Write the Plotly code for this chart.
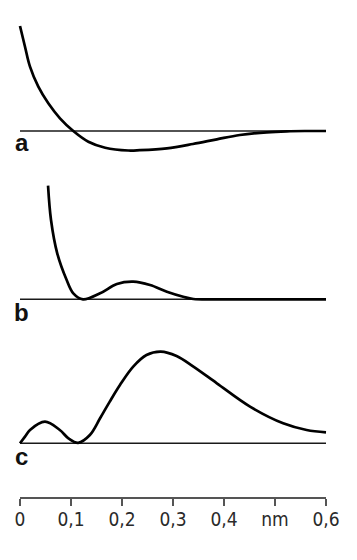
import plotly.graph_objects as go

# ---- data (x in nm, y in arbitrary units relative to each baseline) ----
a_x = [0.0, 0.0098, 0.0196, 0.0359, 0.0555, 0.0784, 0.1045, 0.134, 0.167, 0.212, 0.235,
       0.288, 0.339, 0.386, 0.431, 0.484, 0.523, 0.56, 0.6]
a_y = [105, 84.3, 64.3, 44.3, 27.7, 12.7, 0, -10.7, -16.7, -19.5, -19.2,
       -17.3, -13, -8.3, -4, -1.3, -0.3, 0, 0]

b_x = [0.055, 0.0608, 0.073, 0.0915, 0.1045, 0.1235, 0.157, 0.19, 0.222, 0.255,
       0.288, 0.32, 0.34, 0.4, 0.5, 0.6]
b_y = [113.6, 79.3, 46, 19.3, 6, 0, 6, 15.3, 17.6, 14.3,
       7.6, 2.6, 0.3, 0, 0, 0]

c_x = [0.0, 0.0098, 0.0196, 0.049, 0.078, 0.095, 0.114, 0.137, 0.157, 0.176, 0.196,
       0.222, 0.248, 0.276, 0.307, 0.34, 0.386, 0.451, 0.516, 0.562, 0.6]
c_y = [0, 6.7, 13.3, 21.6, 13.3, 5, 0.5, 8.3, 25, 41.7, 58.3,
       76.7, 88.3, 91.7, 87.3, 76.7, 60, 36.7, 20, 13.3, 11]

tick_vals = [0, 0.1, 0.2, 0.3, 0.4, 0.5, 0.6]
tick_text = ["0", "0,1", "0,2", "0,3", "0,4", "nm", "0,6"]
panel_labels = ["a", "b", "c"]

W, H = 357, 560
X0, X1 = 20, 326          # pixel positions of 0 and 0.6 nm
ppn = (X1 - X0) / 0.6

def px_range():
    return [-X0 / ppn, (W - X0) / ppn]

# panel geometry in pixels: baseline, top, bottom
panels = [(131, 10, 165), (299.3, 175, 320), (443.3, 340, 470)]

fig = go.Figure()
series = [(a_x, a_y), (b_x, b_y), (c_x, c_y)]
for i, ((xs, ys), (B, T, Bot)) in enumerate(zip(series, panels)):
    yname = "y" if i == 0 else f"y{i+1}"
    fig.add_trace(go.Scatter(x=[0, 0.6], y=[0, 0], mode="lines", xaxis="x", yaxis=yname,
                             line=dict(color="#1a1a1a", width=1.6), hoverinfo="skip",
                             showlegend=False))
    fig.add_trace(go.Scatter(x=xs, y=ys, mode="lines", xaxis="x", yaxis=yname,
                             line=dict(color="#000000", width=2.7, shape="spline", smoothing=1.0),
                             hoverinfo="skip", showlegend=False))
    key = "yaxis" if i == 0 else f"yaxis{i+1}"
    fig.layout[key] = dict(domain=[1 - Bot / H, 1 - T / H], range=[B - Bot, B - T],
                           visible=False, fixedrange=True, anchor="x", automargin=False)

# invisible trace to attach the scale-bar axis
fig.add_trace(go.Scatter(x=[0, 0.6], y=[0, 0], mode="lines", xaxis="x2", yaxis="y",
                         line=dict(width=0), opacity=0, hoverinfo="skip", showlegend=False))

fig.update_layout(
    template="none",
    width=W, height=H,
    margin=dict(l=0, r=0, t=0, b=0, pad=0, autoexpand=False),
    paper_bgcolor="white", plot_bgcolor="rgba(0,0,0,0)",
    xaxis=dict(domain=[0, 1], range=px_range(), visible=False, fixedrange=True,
               automargin=False),
    xaxis2=dict(domain=[X0 / W, X1 / W], range=[0, 0.6], anchor="free",
                position=1 - 497.7 / H, showline=True, linecolor="#555555", linewidth=2,
                ticks="outside", ticklen=7, tickwidth=2, tickcolor="#555555",
                tickvals=tick_vals, ticktext=tick_text, showgrid=False, zeroline=False,
                automargin=False, ticklabelstandoff=-3,
                tickfont=dict(family="DejaVu Sans Condensed, DejaVu Sans, sans-serif",
                              size=19, color="#2a2a2a"),
                fixedrange=True),
    showlegend=False,
)

label_pos = [(21.7, 153), (21.5, 323), (21.3, 467)]
for txt, (lx, ly) in zip(panel_labels, label_pos):
    fig.add_annotation(text="<b>" + txt + "</b>", x=lx / W, y=1 - (ly + 5) / H,
                       xref="paper", yref="paper", xanchor="center", yanchor="bottom",
                       showarrow=False,
                       font=dict(family="Liberation Sans Narrow, Arial Narrow, sans-serif",
                                 size=24, color="#111111"))

fig.write_html("out.html")
